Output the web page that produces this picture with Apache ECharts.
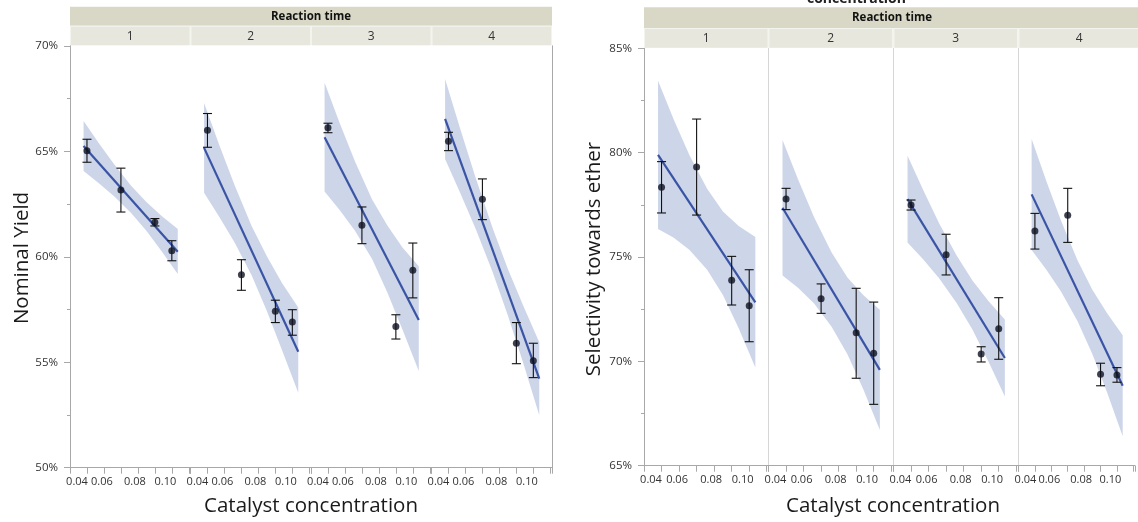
<!DOCTYPE html>
<html><head><meta charset="utf-8">
<script src="https://cdn.jsdelivr.net/npm/echarts@6/dist/echarts.min.js"></script>
<style>html,body{margin:0;padding:0;background:#fff}#c{width:1138px;height:522px}</style>
</head><body><div id="c"></div>
<script>
// ---------------- data ----------------
const reactionTimes = ['1', '2', '3', '4'];
const catalystX = [0.05, 0.07, 0.09, 0.10];
const fitX = [0.048, 0.1035];
const bandX = [0.048, 0.057, 0.066, 0.076, 0.085, 0.094, 0.1035];
const xTickValues = [0.04, 0.06, 0.08, 0.10];
const xTickLabels = ['0.04', '0.06', '0.08', '0.10'];

// Nominal Yield (%), one row per reaction time
const yieldMean = [
  [65.03, 63.17, 61.64, 60.29],
  [66.00, 59.15, 57.42, 56.91],
  [66.11, 61.49, 56.69, 59.36],
  [65.48, 62.73, 55.90, 55.07]
];
const yieldLow = [
  [64.48, 62.12, 61.46, 59.81],
  [65.19, 58.41, 56.88, 56.28],
  [65.88, 60.62, 56.10, 58.05],
  [65.03, 61.76, 54.93, 54.27]
];
const yieldHigh = [
  [65.57, 64.20, 61.81, 60.76],
  [66.79, 59.86, 57.94, 57.49],
  [66.33, 62.36, 57.25, 60.65],
  [65.90, 63.69, 56.88, 55.90]
];
const yieldFit = [
  [65.25, 60.24],
  [65.16, 55.50],
  [65.67, 57.00],
  [66.53, 54.22]
];
const yieldBandUpper = [
  [66.44, 65.38, 64.38, 63.37, 62.59, 61.93, 61.31],
  [67.29, 65.29, 63.39, 61.46, 60.02, 58.74, 57.60],
  [68.25, 66.32, 64.50, 62.71, 61.48, 60.43, 59.55],
  [68.43, 66.05, 63.75, 61.36, 59.42, 57.69, 55.95]
];
const yieldBandLower = [
  [64.07, 63.49, 62.87, 62.07, 61.23, 60.26, 59.18],
  [63.03, 61.89, 60.68, 59.12, 57.43, 55.56, 53.55],
  [63.09, 62.20, 61.22, 59.89, 58.30, 56.53, 54.58],
  [64.63, 63.01, 61.33, 59.28, 57.22, 54.98, 52.49]
];
const yieldTicks = { min: 50, max: 70, step: 5 };

// Selectivity towards ether (%)
const selMean = [
  [78.34, 79.31, 73.88, 72.67],
  [77.78, 73.00, 71.37, 70.39],
  [77.49, 75.11, 70.35, 71.56],
  [76.25, 77.00, 69.38, 69.35]
];
const selLow = [
  [77.11, 77.01, 72.70, 70.94],
  [77.27, 72.30, 69.19, 67.94],
  [77.25, 74.14, 69.97, 70.10],
  [75.38, 75.70, 68.83, 69.00]
];
const selHigh = [
  [79.57, 81.61, 75.03, 74.39],
  [78.29, 73.71, 73.50, 72.84],
  [77.73, 76.09, 70.70, 73.05],
  [77.09, 78.29, 69.91, 69.70]
];
const selFit = [
  [79.89, 72.83],
  [77.36, 69.59],
  [77.77, 70.16],
  [78.00, 68.83]
];
const selBandUpper = [
  [83.44, 81.58, 79.86, 78.27, 77.18, 76.49, 75.96],
  [80.61, 78.69, 76.91, 75.22, 74.02, 73.18, 72.47],
  [79.85, 78.20, 76.62, 75.07, 73.87, 72.90, 72.00],
  [80.66, 78.63, 76.72, 74.83, 73.43, 72.30, 71.25]
];
const selBandLower = [
  [76.34, 75.92, 75.34, 74.39, 73.18, 71.59, 69.70],
  [74.11, 73.51, 72.77, 71.66, 70.34, 68.67, 66.71],
  [75.69, 74.88, 73.98, 72.79, 71.53, 70.02, 68.32],
  [75.34, 74.39, 73.34, 71.92, 70.35, 68.51, 66.41]
];
const selTicks = { min: 65, max: 85, step: 5 };

// ---------------- styling / layout ----------------
const FONT = '"Open Sans", "Noto Sans", sans-serif';
const AXIS_COLOR = '#a8a8a8';
const SEP_COLOR = '#d6d6d6';
const LINE_COLOR = '#3a54a5';
const BAND_COLOR = '#cdd5e9';
const DOT_COLOR = '#0e1120';

const grids = [], xAxes = [], yAxes = [], series = [];
const labelKeys = ['a', 'b', 'c', 'd'];

function xLabelFormatter(v) {
  for (let i = 0; i < xTickValues.length; i++) {
    if (Math.abs(v - xTickValues[i]) < 1e-6) return '{' + labelKeys[i] + '|' + xTickLabels[i] + '}';
  }
  return '';
}

function addChart(cfg) {
  for (let p = 0; p < 4; p++) {
    const gi = grids.length;
    grids.push({ left: cfg.lefts[p], top: cfg.top, width: cfg.width, height: cfg.height });
    xAxes.push({
      gridIndex: gi, type: 'value', min: 0.04, max: 0.111, interval: 0.01,
      axisLine: { show: true, lineStyle: { color: AXIS_COLOR, width: 1 } },
      axisTick: { show: true, length: 6, lineStyle: { color: AXIS_COLOR } },
      splitLine: { show: false },
      axisLabel: {
        show: true, margin: 9, fontSize: 11, fontFamily: FONT, color: '#333',
        formatter: xLabelFormatter,
        rich: {
          a: { fontSize: 11, fontFamily: FONT, color: '#333', padding: [0, 0, 0, 14] },
          b: { fontSize: 11, fontFamily: FONT, color: '#333', padding: [0, 4, 0, 0] },
          c: { fontSize: 11, fontFamily: FONT, color: '#333', padding: [0, 6, 0, 0] },
          d: { fontSize: 11, fontFamily: FONT, color: '#333', padding: [0, 13, 0, 0] }
        }
      }
    });
    const first = p === 0;
    const y = {
      gridIndex: gi, type: 'value', min: cfg.ticks.min, max: cfg.ticks.max, interval: cfg.ticks.step,
      splitLine: { show: false }, minorSplitLine: { show: false }
    };
    if (first) {
      Object.assign(y, {
        axisLine: { show: true, lineStyle: { color: AXIS_COLOR } },
        axisTick: { show: true, length: 6, lineStyle: { color: AXIS_COLOR } },
        minorTick: { show: true, splitNumber: 2, length: 3, lineStyle: { color: AXIS_COLOR } },
        axisLabel: { show: true, margin: 12, fontSize: 11.5, fontFamily: FONT, color: '#333', formatter: '{value}%' }
      });
    } else if (cfg.separators) {
      Object.assign(y, {
        axisLine: { show: true, lineStyle: { color: SEP_COLOR } },
        axisTick: { show: false }, axisLabel: { show: false }
      });
    } else if (p === 3 && cfg.rightBorder) {
      Object.assign(y, {
        position: 'right',
        axisLine: { show: true, lineStyle: { color: AXIS_COLOR } },
        axisTick: { show: false }, axisLabel: { show: false }
      });
    } else {
      Object.assign(y, { axisLine: { show: false }, axisTick: { show: false }, axisLabel: { show: false } });
    }
    yAxes.push(y);

    const up = cfg.bandUpper[p], lo = cfg.bandLower[p];
    series.push({
      type: 'custom', xAxisIndex: gi, yAxisIndex: gi, z: 1, silent: true,
      data: bandX.map((x, i) => [x, lo[i], up[i]]),
      encode: { x: 0, y: [1, 2] },
      renderItem: function (params, api) {
        if (params.dataIndex !== 0) return null;
        const pts = [];
        for (let i = 0; i < bandX.length; i++) pts.push(api.coord([bandX[i], up[i]]));
        for (let i = bandX.length - 1; i >= 0; i--) pts.push(api.coord([bandX[i], lo[i]]));
        return { type: 'polygon', shape: { points: pts }, style: { fill: BAND_COLOR } };
      }
    });
    series.push({
      type: 'line', xAxisIndex: gi, yAxisIndex: gi, z: 2, symbol: 'none', silent: true,
      data: fitX.map((x, i) => [x, cfg.fit[p][i]]),
      lineStyle: { color: LINE_COLOR, width: 2.2 }
    });
    series.push({
      type: 'custom', xAxisIndex: gi, yAxisIndex: gi, z: 3, silent: true,
      data: catalystX.map((x, i) => [x, cfg.low[p][i], cfg.high[p][i]]),
      encode: { x: 0, y: [1, 2] },
      renderItem: function (params, api) {
        const a = api.coord([api.value(0), api.value(1)]);
        const b = api.coord([api.value(0), api.value(2)]);
        const w = 4.5;
        const st = { stroke: '#111', lineWidth: 1.1 };
        return {
          type: 'group', children: [
            { type: 'line', shape: { x1: a[0], y1: a[1], x2: b[0], y2: b[1] }, style: st },
            { type: 'line', shape: { x1: a[0] - w, y1: a[1], x2: a[0] + w, y2: a[1] }, style: st },
            { type: 'line', shape: { x1: b[0] - w, y1: b[1], x2: b[0] + w, y2: b[1] }, style: st }
          ]
        };
      }
    });
    series.push({
      type: 'scatter', xAxisIndex: gi, yAxisIndex: gi, z: 4, silent: true,
      symbolSize: 7, itemStyle: { color: DOT_COLOR },
      data: catalystX.map((x, i) => [x, cfg.mean[p][i]])
    });
  }
}

const L = { lefts: [70, 190.5, 311, 431.5], width: 120.5, top: 45.8, height: 421.9 };
const R = { lefts: [644, 768.5, 893.5, 1018.5], width: 124.5, top: 48.3, height: 417.4 };

addChart(Object.assign({}, L, {
  ticks: yieldTicks, mean: yieldMean, low: yieldLow, high: yieldHigh, fit: yieldFit,
  bandUpper: yieldBandUpper, bandLower: yieldBandLower, separators: false, rightBorder: true
}));
addChart(Object.assign({}, R, {
  ticks: selTicks, mean: selMean, low: selLow, high: selHigh, fit: selFit,
  bandUpper: selBandUpper, bandLower: selBandLower, separators: true, rightBorder: false
}));

// headers & titles
const graphics = [];
function header(x0, x1, yTop, yMid, yBot, lefts, width) {
  graphics.push({ type: 'rect', silent: true, shape: { x: x0, y: yTop, width: x1 - x0, height: yMid - yTop }, style: { fill: '#d9d8c7' } });
  graphics.push({ type: 'text', silent: true, x: (x0 + x1) / 2, y: (yTop + yMid) / 2 + 0.5,
    style: { text: 'Reaction time', fontSize: 11.5, fontWeight: 'bold', fontFamily: FONT, fill: '#111', align: 'center', verticalAlign: 'middle' } });
  graphics.push({ type: 'rect', silent: true, shape: { x: x0, y: yMid, width: x1 - x0, height: yBot - yMid }, style: { fill: '#f4f4ef' } });
  for (let p = 0; p < 4; p++) {
    const cx0 = Math.max(x0, lefts[p] + 1), cx1 = Math.min(x1, lefts[p] + width - 1);
    graphics.push({ type: 'rect', silent: true, shape: { x: cx0, y: yMid + 1, width: cx1 - cx0, height: yBot - yMid - 1 }, style: { fill: '#e8e7de' } });
    graphics.push({ type: 'text', silent: true, x: (lefts[p] + Math.min(x1, lefts[p] + width)) / 2, y: (yMid + yBot) / 2 + 1,
      style: { text: reactionTimes[p], fontSize: 12, fontFamily: FONT, fill: '#333', align: 'center', verticalAlign: 'middle' } });
  }
}
header(70, 552, 6.7, 25.7, 45.3, L.lefts, L.width);
header(644, 1140, 7.3, 28, 47.8, R.lefts, R.width);

function title(text, x, y, rot) {
  graphics.push({ type: 'text', silent: true, x: x, y: y, rotation: rot || 0,
    style: { text: text, fontSize: 20.5, fontFamily: FONT, fill: '#1a1a1a', align: 'center', verticalAlign: 'middle' } });
}
title('Nominal Yield', 22, 258, Math.PI / 2);
title('Selectivity towards ether', 594, 259, Math.PI / 2);
title('Catalyst concentration', 311, 506);
title('Catalyst concentration', 893, 506);
// clipped title fragment at the very top of the right chart
graphics.push({ type: 'text', silent: true, x: 807, y: 6.5,
  style: { text: 'concentration', fontSize: 14, fontWeight: 'bold', fontFamily: FONT, fill: '#222', align: 'left', verticalAlign: 'bottom' } });

const chart = echarts.init(document.getElementById('c'), null, { renderer: 'canvas' });
chart.setOption({
  animation: false,
  backgroundColor: '#ffffff',
  grid: grids, xAxis: xAxes, yAxis: yAxes, series: series,
  graphic: graphics
});
</script></body></html>
